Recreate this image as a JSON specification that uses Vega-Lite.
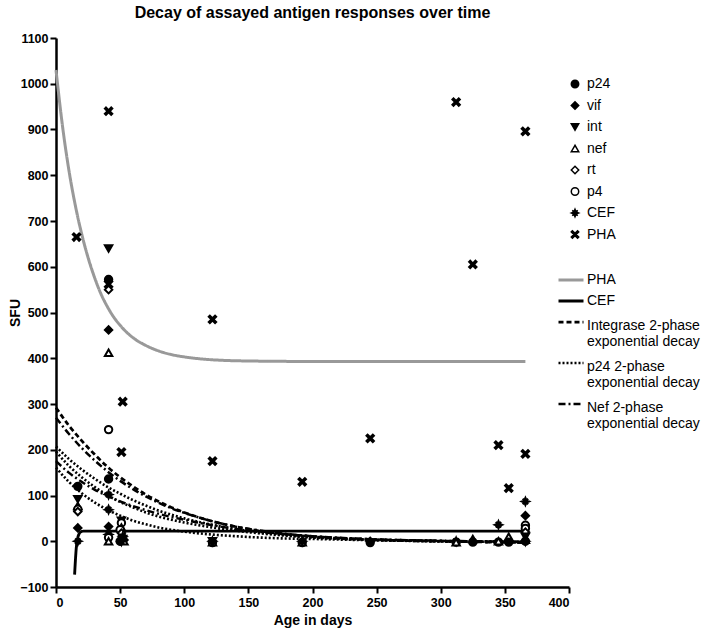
{
  "$schema": "https://vega.github.io/schema/vega-lite/v6.json",
  "width": 513,
  "height": 549,
  "autosize": {"type": "none"},
  "padding": {"left": 56, "top": 38, "right": 140, "bottom": 46},
  "title": {"text": "Decay of assayed antigen responses over time", "fontSize": 16, "fontWeight": "bold", "font": "Liberation Sans", "anchor": "middle", "frame": "group", "offset": 11, "color": "black"},
  "config": {
    "view": {"stroke": null},
    "font": "Liberation Sans",
    "axis": {"domainColor": "black", "domainWidth": 2.5, "tickColor": "black", "tickWidth": 2, "tickSize": 6, "labelFont": "Liberation Sans", "labelFontWeight": "bold", "labelFontSize": 12.5, "labelColor": "black", "titleFont": "Liberation Sans", "titleFontWeight": "bold", "titleFontSize": 14, "titleColor": "black", "grid": false},
    "legend": {"labelFont": "Liberation Sans", "labelFontSize": 14, "labelColor": "black"}
  },
  "datasets": {
    "fits": [
      {"fit": "PHA", "c": "PHA", "d": 0, "v": 1030}, {"fit": "PHA", "c": "PHA", "d": 5, "v": 909}, {"fit": "PHA", "c": "PHA", "d": 10, "v": 812}, {"fit": "PHA", "c": "PHA", "d": 15, "v": 735}, {"fit": "PHA", "c": "PHA", "d": 20, "v": 672}, {"fit": "PHA", "c": "PHA", "d": 25, "v": 620}, {"fit": "PHA", "c": "PHA", "d": 30, "v": 577}, {"fit": "PHA", "c": "PHA", "d": 35, "v": 541}, {"fit": "PHA", "c": "PHA", "d": 40, "v": 513}, {"fit": "PHA", "c": "PHA", "d": 45, "v": 490}, {"fit": "PHA", "c": "PHA", "d": 50, "v": 472}, {"fit": "PHA", "c": "PHA", "d": 60, "v": 445}, {"fit": "PHA", "c": "PHA", "d": 70, "v": 428}, {"fit": "PHA", "c": "PHA", "d": 80, "v": 416}, {"fit": "PHA", "c": "PHA", "d": 90, "v": 408}, {"fit": "PHA", "c": "PHA", "d": 100, "v": 403}, {"fit": "PHA", "c": "PHA", "d": 120, "v": 397}, {"fit": "PHA", "c": "PHA", "d": 150, "v": 394}, {"fit": "PHA", "c": "PHA", "d": 200, "v": 393}, {"fit": "PHA", "c": "PHA", "d": 300, "v": 393}, {"fit": "PHA", "c": "PHA", "d": 366, "v": 393},
      {"fit": "CEF", "c": "CEF", "d": 14.5, "v": -73}, {"fit": "CEF", "c": "CEF", "d": 15, "v": -48}, {"fit": "CEF", "c": "CEF", "d": 15.5, "v": -26}, {"fit": "CEF", "c": "CEF", "d": 16, "v": -9}, {"fit": "CEF", "c": "CEF", "d": 17, "v": 8}, {"fit": "CEF", "c": "CEF", "d": 18, "v": 16}, {"fit": "CEF", "c": "CEF", "d": 19, "v": 20}, {"fit": "CEF", "c": "CEF", "d": 21, "v": 22}, {"fit": "CEF", "c": "CEF", "d": 25, "v": 22}, {"fit": "CEF", "c": "CEF", "d": 366, "v": 22},
      {"fit": "Integrase 2-phase exponential decay", "c": "A", "d": 0, "v": 292}, {"fit": "Integrase 2-phase exponential decay", "c": "A", "d": 10, "v": 253}, {"fit": "Integrase 2-phase exponential decay", "c": "A", "d": 20, "v": 220}, {"fit": "Integrase 2-phase exponential decay", "c": "A", "d": 30, "v": 190}, {"fit": "Integrase 2-phase exponential decay", "c": "A", "d": 40, "v": 163}, {"fit": "Integrase 2-phase exponential decay", "c": "A", "d": 50, "v": 140}, {"fit": "Integrase 2-phase exponential decay", "c": "A", "d": 60, "v": 120}, {"fit": "Integrase 2-phase exponential decay", "c": "A", "d": 70, "v": 102}, {"fit": "Integrase 2-phase exponential decay", "c": "A", "d": 80, "v": 87}, {"fit": "Integrase 2-phase exponential decay", "c": "A", "d": 90, "v": 74}, {"fit": "Integrase 2-phase exponential decay", "c": "A", "d": 100, "v": 63}, {"fit": "Integrase 2-phase exponential decay", "c": "A", "d": 120, "v": 45}, {"fit": "Integrase 2-phase exponential decay", "c": "A", "d": 140, "v": 32}, {"fit": "Integrase 2-phase exponential decay", "c": "A", "d": 160, "v": 22}, {"fit": "Integrase 2-phase exponential decay", "c": "A", "d": 180, "v": 15}, {"fit": "Integrase 2-phase exponential decay", "c": "A", "d": 200, "v": 10}, {"fit": "Integrase 2-phase exponential decay", "c": "A", "d": 250, "v": 3}, {"fit": "Integrase 2-phase exponential decay", "c": "A", "d": 300, "v": 0}, {"fit": "Integrase 2-phase exponential decay", "c": "A", "d": 366, "v": -3},
      {"fit": "p24 2-phase exponential decay", "c": "C", "d": 0, "v": 207}, {"fit": "p24 2-phase exponential decay", "c": "C", "d": 10, "v": 180}, {"fit": "p24 2-phase exponential decay", "c": "C", "d": 20, "v": 157}, {"fit": "p24 2-phase exponential decay", "c": "C", "d": 30, "v": 137}, {"fit": "p24 2-phase exponential decay", "c": "C", "d": 40, "v": 119}, {"fit": "p24 2-phase exponential decay", "c": "C", "d": 50, "v": 104}, {"fit": "p24 2-phase exponential decay", "c": "C", "d": 60, "v": 90}, {"fit": "p24 2-phase exponential decay", "c": "C", "d": 70, "v": 78}, {"fit": "p24 2-phase exponential decay", "c": "C", "d": 80, "v": 67}, {"fit": "p24 2-phase exponential decay", "c": "C", "d": 90, "v": 58}, {"fit": "p24 2-phase exponential decay", "c": "C", "d": 100, "v": 50}, {"fit": "p24 2-phase exponential decay", "c": "C", "d": 120, "v": 37}, {"fit": "p24 2-phase exponential decay", "c": "C", "d": 140, "v": 27}, {"fit": "p24 2-phase exponential decay", "c": "C", "d": 160, "v": 19}, {"fit": "p24 2-phase exponential decay", "c": "C", "d": 180, "v": 13}, {"fit": "p24 2-phase exponential decay", "c": "C", "d": 200, "v": 9}, {"fit": "p24 2-phase exponential decay", "c": "C", "d": 250, "v": 3}, {"fit": "p24 2-phase exponential decay", "c": "C", "d": 300, "v": 0}, {"fit": "p24 2-phase exponential decay", "c": "C", "d": 366, "v": -2},
      {"fit": "p24 2-phase exponential decay", "c": "D", "d": 0, "v": 196}, {"fit": "p24 2-phase exponential decay", "c": "D", "d": 10, "v": 165}, {"fit": "p24 2-phase exponential decay", "c": "D", "d": 20, "v": 140}, {"fit": "p24 2-phase exponential decay", "c": "D", "d": 30, "v": 119}, {"fit": "p24 2-phase exponential decay", "c": "D", "d": 40, "v": 101}, {"fit": "p24 2-phase exponential decay", "c": "D", "d": 50, "v": 86}, {"fit": "p24 2-phase exponential decay", "c": "D", "d": 60, "v": 74}, {"fit": "p24 2-phase exponential decay", "c": "D", "d": 70, "v": 63}, {"fit": "p24 2-phase exponential decay", "c": "D", "d": 80, "v": 54}, {"fit": "p24 2-phase exponential decay", "c": "D", "d": 90, "v": 47}, {"fit": "p24 2-phase exponential decay", "c": "D", "d": 100, "v": 41}, {"fit": "p24 2-phase exponential decay", "c": "D", "d": 120, "v": 31}, {"fit": "p24 2-phase exponential decay", "c": "D", "d": 140, "v": 23}, {"fit": "p24 2-phase exponential decay", "c": "D", "d": 160, "v": 17}, {"fit": "p24 2-phase exponential decay", "c": "D", "d": 180, "v": 12}, {"fit": "p24 2-phase exponential decay", "c": "D", "d": 200, "v": 8}, {"fit": "p24 2-phase exponential decay", "c": "D", "d": 250, "v": 3}, {"fit": "p24 2-phase exponential decay", "c": "D", "d": 300, "v": 0}, {"fit": "p24 2-phase exponential decay", "c": "D", "d": 366, "v": -2},
      {"fit": "p24 2-phase exponential decay", "c": "F", "d": 0, "v": 161}, {"fit": "p24 2-phase exponential decay", "c": "F", "d": 10, "v": 130}, {"fit": "p24 2-phase exponential decay", "c": "F", "d": 20, "v": 105}, {"fit": "p24 2-phase exponential decay", "c": "F", "d": 30, "v": 85}, {"fit": "p24 2-phase exponential decay", "c": "F", "d": 40, "v": 69}, {"fit": "p24 2-phase exponential decay", "c": "F", "d": 50, "v": 56}, {"fit": "p24 2-phase exponential decay", "c": "F", "d": 60, "v": 45}, {"fit": "p24 2-phase exponential decay", "c": "F", "d": 70, "v": 37}, {"fit": "p24 2-phase exponential decay", "c": "F", "d": 80, "v": 30}, {"fit": "p24 2-phase exponential decay", "c": "F", "d": 90, "v": 25}, {"fit": "p24 2-phase exponential decay", "c": "F", "d": 100, "v": 21}, {"fit": "p24 2-phase exponential decay", "c": "F", "d": 120, "v": 15}, {"fit": "p24 2-phase exponential decay", "c": "F", "d": 140, "v": 11}, {"fit": "p24 2-phase exponential decay", "c": "F", "d": 160, "v": 8}, {"fit": "p24 2-phase exponential decay", "c": "F", "d": 180, "v": 6}, {"fit": "p24 2-phase exponential decay", "c": "F", "d": 200, "v": 5}, {"fit": "p24 2-phase exponential decay", "c": "F", "d": 250, "v": 2}, {"fit": "p24 2-phase exponential decay", "c": "F", "d": 300, "v": 0}, {"fit": "p24 2-phase exponential decay", "c": "F", "d": 366, "v": -1},
      {"fit": "Nef 2-phase exponential decay", "c": "B", "d": 0, "v": 270}, {"fit": "Nef 2-phase exponential decay", "c": "B", "d": 10, "v": 235}, {"fit": "Nef 2-phase exponential decay", "c": "B", "d": 20, "v": 204}, {"fit": "Nef 2-phase exponential decay", "c": "B", "d": 30, "v": 177}, {"fit": "Nef 2-phase exponential decay", "c": "B", "d": 40, "v": 153}, {"fit": "Nef 2-phase exponential decay", "c": "B", "d": 50, "v": 132}, {"fit": "Nef 2-phase exponential decay", "c": "B", "d": 60, "v": 114}, {"fit": "Nef 2-phase exponential decay", "c": "B", "d": 70, "v": 98}, {"fit": "Nef 2-phase exponential decay", "c": "B", "d": 80, "v": 84}, {"fit": "Nef 2-phase exponential decay", "c": "B", "d": 90, "v": 72}, {"fit": "Nef 2-phase exponential decay", "c": "B", "d": 100, "v": 62}, {"fit": "Nef 2-phase exponential decay", "c": "B", "d": 120, "v": 45}, {"fit": "Nef 2-phase exponential decay", "c": "B", "d": 140, "v": 32}, {"fit": "Nef 2-phase exponential decay", "c": "B", "d": 160, "v": 23}, {"fit": "Nef 2-phase exponential decay", "c": "B", "d": 180, "v": 16}, {"fit": "Nef 2-phase exponential decay", "c": "B", "d": 200, "v": 11}, {"fit": "Nef 2-phase exponential decay", "c": "B", "d": 250, "v": 4}, {"fit": "Nef 2-phase exponential decay", "c": "B", "d": 300, "v": 1}, {"fit": "Nef 2-phase exponential decay", "c": "B", "d": 366, "v": -2},
      {"fit": "Nef 2-phase exponential decay", "c": "E", "d": 0, "v": 175}, {"fit": "Nef 2-phase exponential decay", "c": "E", "d": 10, "v": 150}, {"fit": "Nef 2-phase exponential decay", "c": "E", "d": 20, "v": 130}, {"fit": "Nef 2-phase exponential decay", "c": "E", "d": 30, "v": 113}, {"fit": "Nef 2-phase exponential decay", "c": "E", "d": 40, "v": 99}, {"fit": "Nef 2-phase exponential decay", "c": "E", "d": 50, "v": 87}, {"fit": "Nef 2-phase exponential decay", "c": "E", "d": 60, "v": 77}, {"fit": "Nef 2-phase exponential decay", "c": "E", "d": 70, "v": 68}, {"fit": "Nef 2-phase exponential decay", "c": "E", "d": 80, "v": 60}, {"fit": "Nef 2-phase exponential decay", "c": "E", "d": 90, "v": 53}, {"fit": "Nef 2-phase exponential decay", "c": "E", "d": 100, "v": 47}, {"fit": "Nef 2-phase exponential decay", "c": "E", "d": 120, "v": 36}, {"fit": "Nef 2-phase exponential decay", "c": "E", "d": 140, "v": 27}, {"fit": "Nef 2-phase exponential decay", "c": "E", "d": 160, "v": 20}, {"fit": "Nef 2-phase exponential decay", "c": "E", "d": 180, "v": 15}, {"fit": "Nef 2-phase exponential decay", "c": "E", "d": 200, "v": 11}, {"fit": "Nef 2-phase exponential decay", "c": "E", "d": 250, "v": 4}, {"fit": "Nef 2-phase exponential decay", "c": "E", "d": 300, "v": 1}, {"fit": "Nef 2-phase exponential decay", "c": "E", "d": 366, "v": -1}
    ],
    "pts": [
      {"a": "PHA", "d": 16, "v": 665}, {"a": "PHA", "d": 41, "v": 940}, {"a": "PHA", "d": 41, "v": 562}, {"a": "PHA", "d": 52, "v": 305}, {"a": "PHA", "d": 51, "v": 195}, {"a": "PHA", "d": 122, "v": 485}, {"a": "PHA", "d": 122, "v": 175}, {"a": "PHA", "d": 192, "v": 130}, {"a": "PHA", "d": 245, "v": 225}, {"a": "PHA", "d": 312, "v": 960}, {"a": "PHA", "d": 325, "v": 605}, {"a": "PHA", "d": 345, "v": 210}, {"a": "PHA", "d": 353, "v": 116}, {"a": "PHA", "d": 366, "v": 896}, {"a": "PHA", "d": 366, "v": 191},
      {"a": "p24", "d": 17, "v": 120}, {"a": "int", "d": 17, "v": 92}, {"a": "nef", "d": 17, "v": 77}, {"a": "p4", "d": 17, "v": 70}, {"a": "rt", "d": 17, "v": 65}, {"a": "vif", "d": 17, "v": 29}, {"a": "CEF", "d": 17, "v": 0},
      {"a": "int", "d": 41, "v": 640}, {"a": "p24", "d": 41, "v": 572}, {"a": "rt", "d": 41, "v": 550}, {"a": "vif", "d": 41, "v": 462}, {"a": "nef", "d": 41, "v": 412}, {"a": "p4", "d": 41, "v": 244}, {"a": "p24", "d": 41, "v": 136}, {"a": "CEF", "d": 41, "v": 102}, {"a": "CEF", "d": 41, "v": 69}, {"a": "vif", "d": 41, "v": 32}, {"a": "CEF", "d": 41, "v": 15}, {"a": "p4", "d": 41, "v": 8}, {"a": "nef", "d": 41, "v": 0},
      {"a": "int", "d": 51, "v": 45}, {"a": "p4", "d": 51, "v": 40}, {"a": "nef", "d": 51, "v": 30}, {"a": "p4", "d": 50, "v": 25}, {"a": "rt", "d": 51, "v": 18}, {"a": "CEF", "d": 52, "v": 10}, {"a": "vif", "d": 53, "v": 3}, {"a": "p24", "d": 50, "v": 0}, {"a": "nef", "d": 53, "v": 0}, {"a": "CEF", "d": 51, "v": 0}, {"a": "int", "d": 52, "v": 5},
      {"a": "p24", "d": 122, "v": -3}, {"a": "nef", "d": 122, "v": -2}, {"a": "int", "d": 122, "v": 0}, {"a": "vif", "d": 122, "v": 0}, {"a": "CEF", "d": 122, "v": 0},
      {"a": "p24", "d": 192, "v": -3}, {"a": "nef", "d": 192, "v": -2}, {"a": "CEF", "d": 192, "v": 0},
      {"a": "p24", "d": 245, "v": -3}, {"a": "vif", "d": 245, "v": 0},
      {"a": "p24", "d": 312, "v": -2}, {"a": "CEF", "d": 312, "v": 0}, {"a": "nef", "d": 312, "v": -2},
      {"a": "nef", "d": 325, "v": 5}, {"a": "p24", "d": 325, "v": -2},
      {"a": "CEF", "d": 345, "v": 36}, {"a": "p24", "d": 345, "v": -2}, {"a": "nef", "d": 345, "v": 0},
      {"a": "nef", "d": 353, "v": 10}, {"a": "p24", "d": 353, "v": -2},
      {"a": "CEF", "d": 366, "v": 87}, {"a": "vif", "d": 366, "v": 56}, {"a": "p4", "d": 366, "v": 35}, {"a": "p4", "d": 366, "v": 28}, {"a": "rt", "d": 366, "v": 20}, {"a": "int", "d": 366, "v": 10}, {"a": "nef", "d": 366, "v": 3}, {"a": "p24", "d": 366, "v": 0}, {"a": "CEF", "d": 366, "v": 0}
    ]
  },
  "encoding": {
    "x": {"field": "d", "type": "quantitative", "title": "Age in days", "scale": {"domain": [0, 400], "nice": false, "zero": false}, "axis": {"values": [0, 50, 100, 150, 200, 250, 300, 350, 400], "format": "d", "labelPadding": 3, "titlePadding": 5}},
    "y": {"field": "v", "type": "quantitative", "title": "SFU", "scale": {"domain": [-100, 1100], "nice": false, "zero": false}, "axis": {"values": [-100, 0, 100, 200, 300, 400, 500, 600, 700, 800, 900, 1000, 1100], "format": "d", "labelPadding": 2, "titleX": -34}}
  },
  "layer": [
    {
      "data": {"name": "fits"},
      "mark": {"type": "line", "interpolate": "monotone"},
      "encoding": {
        "detail": {"field": "c"},
        "stroke": {"field": "fit", "type": "nominal", "scale": {"domain": ["PHA", "CEF", "Integrase 2-phase exponential decay", "p24 2-phase exponential decay", "Nef 2-phase exponential decay"], "range": ["#999999", "black", "black", "black", "black"]}, "legend": {"title": null, "orient": "none", "legendX": 501, "legendY": 228, "symbolType": "stroke", "symbolSize": 625, "labelOffset": 2, "rowPadding": -2, "padding": 0, "labelExpr": "indexof(datum.label, ' exponential') > 0 ? [substring(datum.label, 0, indexof(datum.label, ' exponential')), 'exponential decay'] : datum.label", "encode": {"labels": {"update": {"dy": {"signal": "indexof(datum.label, ' exponential') > 0 ? 4 : 0"}}}}}},
        "strokeDash": {"field": "fit", "type": "nominal", "scale": {"domain": ["PHA", "CEF", "Integrase 2-phase exponential decay", "p24 2-phase exponential decay", "Nef 2-phase exponential decay"], "range": [[1, 0], [1, 0], [5, 3], [2, 2], [7, 3, 2, 3]]}, "legend": {"title": null, "orient": "none", "legendX": 501, "legendY": 228, "symbolType": "stroke", "symbolSize": 625, "labelOffset": 2, "rowPadding": -2, "padding": 0, "labelExpr": "indexof(datum.label, ' exponential') > 0 ? [substring(datum.label, 0, indexof(datum.label, ' exponential')), 'exponential decay'] : datum.label", "encode": {"labels": {"update": {"dy": {"signal": "indexof(datum.label, ' exponential') > 0 ? 4 : 0"}}}}}},
        "strokeWidth": {"field": "fit", "type": "nominal", "scale": {"domain": ["PHA", "CEF", "Integrase 2-phase exponential decay", "p24 2-phase exponential decay", "Nef 2-phase exponential decay"], "range": [3, 2.5, 2.2, 1.2, 2.2]}, "legend": {"title": null, "orient": "none", "legendX": 501, "legendY": 228, "symbolType": "stroke", "symbolSize": 625, "labelOffset": 2, "rowPadding": -2, "padding": 0, "labelExpr": "indexof(datum.label, ' exponential') > 0 ? [substring(datum.label, 0, indexof(datum.label, ' exponential')), 'exponential decay'] : datum.label", "encode": {"labels": {"update": {"dy": {"signal": "indexof(datum.label, ' exponential') > 0 ? 4 : 0"}}}}}}
      }
    },
    {
      "data": {"name": "pts"},
      "mark": {"type": "point", "stroke": "black", "strokeWidth": 2, "opacity": 1, "size": 55},
      "encoding": {
        "shape": {"field": "a", "type": "nominal", "scale": {"domain": ["p24", "vif", "int", "nef", "rt", "p4", "CEF", "PHA"], "range": ["circle", "diamond", "triangle-down", "triangle-up", "diamond", "circle", "M0,-1L0.25,-0.4L0.7,-0.7L0.4,-0.25L1,0L0.4,0.25L0.7,0.7L0.25,0.4L0,1L-0.25,0.4L-0.7,0.7L-0.4,0.25L-1,0L-0.4,-0.25L-0.7,-0.7L-0.25,-0.4Z", "M-1,-0.7L-0.7,-1L0,-0.3L0.7,-1L1,-0.7L0.3,0L1,0.7L0.7,1L0,0.3L-0.7,1L-1,0.7L-0.3,0Z"]}, "legend": {"title": null, "orient": "none", "legendX": 512, "legendY": 39, "symbolSize": 55, "labelOffset": 5, "rowPadding": 7.5, "padding": 0, "encode": {"symbols": {"update": {"stroke": {"value": "black"}, "strokeWidth": {"value": 2}, "opacity": {"value": 1}}}}}},
        "fill": {"field": "a", "type": "nominal", "scale": {"domain": ["p24", "vif", "int", "nef", "rt", "p4", "CEF", "PHA"], "range": ["black", "black", "black", "white", "white", "white", "black", "black"]}, "legend": {"title": null, "orient": "none", "legendX": 512, "legendY": 39, "symbolSize": 55, "labelOffset": 5, "rowPadding": 7.5, "padding": 0, "encode": {"symbols": {"update": {"stroke": {"value": "black"}, "strokeWidth": {"value": 2}, "opacity": {"value": 1}}}}}}
      }
    }
  ]
}
